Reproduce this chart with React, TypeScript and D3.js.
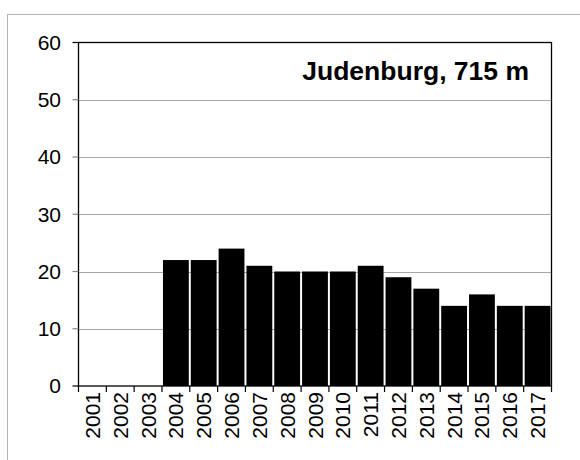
import React from "react";
import * as d3 from "d3";

const years = ["2001","2002","2003","2004","2005","2006","2007","2008","2009","2010","2011","2012","2013","2014","2015","2016","2017"];
const values: (number | null)[] = [null, null, null, 22, 22, 24, 21, 20, 20, 20, 21, 19, 17, 14, 16, 14, 14];
const yTicks = [0, 10, 20, 30, 40, 50, 60];
const title = "Judenburg, 715 m";

const W = 580, H = 460;
const left = 78.5, right = 551.5, top = 42.5, bottom = 386;

export default function App() {
  const x = d3.scaleBand<string>().domain(years).range([left, right]).padding(0);
  const y = d3.scaleLinear().domain([0, 60]).range([bottom, top]);
  const bw = x.bandwidth();
  const font = "Liberation Sans, Arial, sans-serif";
  return (
    <svg width={W} height={H} style={{ position: "absolute", left: 0, top: 0, background: "#fff" }}>
      <rect x={7.5} y={14.5} width={700} height={600} fill="#fff" stroke="#b4b4b4" strokeWidth={1} />
      {yTicks.filter(t => t > 0 && t < 60).map(t => (
        <line key={"g" + t} x1={left} x2={right} y1={Math.round(y(t)) + 0.5} y2={Math.round(y(t)) + 0.5} stroke="#a6a6a6" strokeWidth={1} />
      ))}
      {years.map((yr, i) => values[i] == null ? null : (
        <rect key={yr} x={(x(yr) as number) + 1} width={bw - 2} y={y(values[i] as number)} height={bottom - y(values[i] as number)} fill="#000" />
      ))}
      <rect x={left} y={top} width={right - left} height={bottom - top} fill="none" stroke="#000" strokeWidth={1.3} />
      {yTicks.map(t => (
        <g key={"t" + t}>
          <line x1={left - 6} x2={left} y1={y(t)} y2={y(t)} stroke={t === 0 || t === 60 ? "#000" : "#888"} strokeWidth={1.2} />
          <text x={61} y={y(t)} dy="0.35em" textAnchor="end" fontFamily={font} fontSize={21} fill="#000">{t}</text>
        </g>
      ))}
      {years.map((yr, i) => (
        <line key={"xt" + yr} x1={x(yr) as number} x2={x(yr) as number} y1={bottom} y2={bottom + 6} stroke="#000" strokeWidth={1.2} />
      ))}
      <line x1={right} x2={right} y1={bottom} y2={bottom + 6} stroke="#000" strokeWidth={1.2} />
      {years.map(yr => {
        const cx = (x(yr) as number) + bw / 2;
        return (
          <text key={"xl" + yr} transform={`translate(${cx + 7.5},392) rotate(-90)`} textAnchor="end" fontFamily={font} fontSize={21} fill="#000">{yr}</text>
        );
      })}
      <text x={529} y={80} textAnchor="end" fontFamily={font} fontSize={26.5} fontWeight="bold" fill="#000">{title}</text>
    </svg>
  );
}
